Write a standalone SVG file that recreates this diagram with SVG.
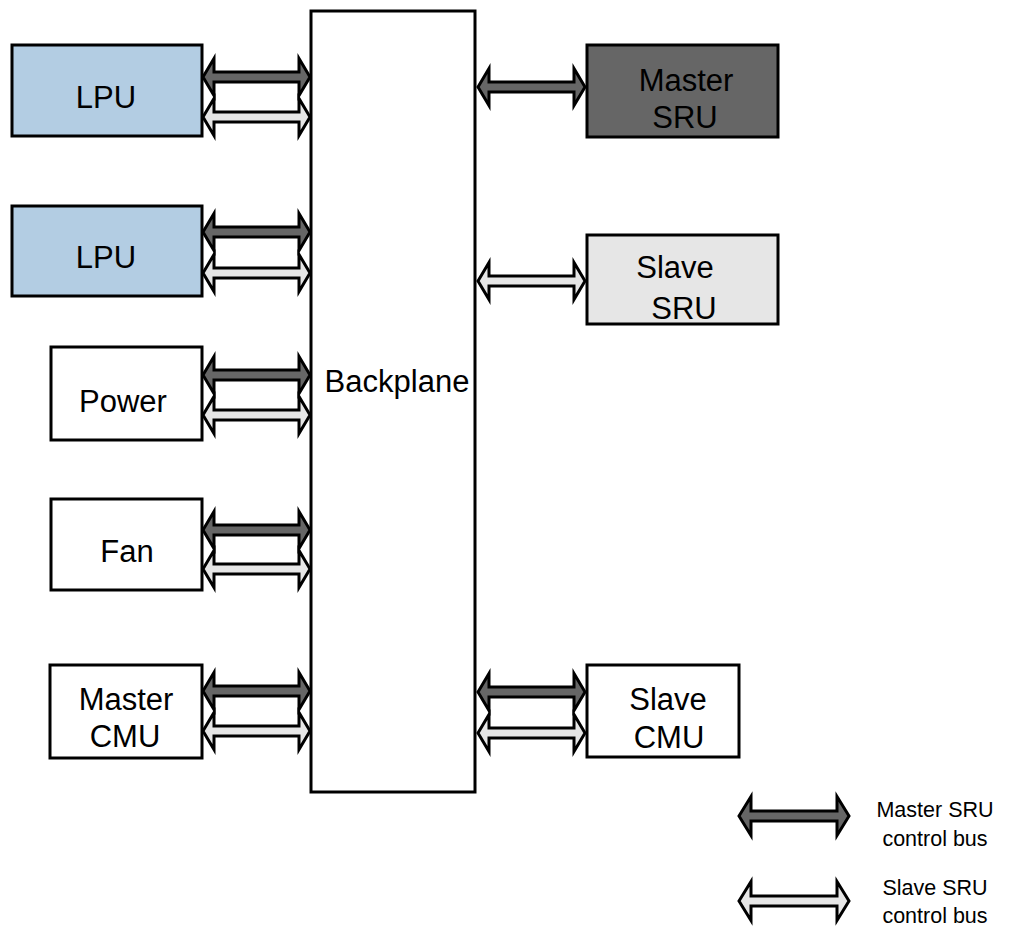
<svg xmlns="http://www.w3.org/2000/svg" xmlns:xlink="http://www.w3.org/1999/xlink" width="1017" height="932" viewBox="0 0 1017 932">
<style>
.box{stroke:#000;stroke-width:3}
.plain{fill:#fff}
.lpu{fill:#b3cde3}
.msru{fill:#666666}
.ssru{fill:#e6e6e6}
.t{font-family:"Liberation Sans",Arial,sans-serif;font-size:31px;fill:#000;text-anchor:middle}
.lt{font-family:"Liberation Sans",Arial,sans-serif;font-size:21.5px;fill:#000;text-anchor:middle}
.busM{fill:#666666;stroke:#000;stroke-width:3;stroke-linejoin:miter;stroke-miterlimit:10}
.busS{fill:#e6e6e6;stroke:#000;stroke-width:3;stroke-linejoin:miter;stroke-miterlimit:10}
</style>
<defs>
<path id="arm" d="M0,0 L11,-18.5 L11,-5 L96,-5 L96,-18.5 L107,0 L96,18.5 L96,5 L11,5 L11,18.5 Z"/>
<path id="legarm" d="M0,0 L12,-19.5 L12,-5 L98,-5 L98,-19.5 L110,0 L98,19.5 L98,5 L12,5 L12,19.5 Z"/>
</defs>
<rect width="1017" height="932" fill="#fff"/>

<g id="backplane">
<rect class="box plain" x="311" y="11" width="164" height="781"/>
<text class="t" x="397" y="392">Backplane</text>
</g>

<g id="lpu1">
<rect class="box lpu" x="12" y="45" width="190" height="91"/>
<text class="t" x="106" y="108">LPU</text>
</g>
<g id="lpu2">
<rect class="box lpu" x="12" y="206" width="190" height="90"/>
<text class="t" x="106" y="268">LPU</text>
</g>
<g id="power">
<rect class="box plain" x="51" y="347" width="151" height="93"/>
<text class="t" x="123" y="412">Power</text>
</g>
<g id="fan">
<rect class="box plain" x="51" y="499" width="151" height="91"/>
<text class="t" x="127" y="562">Fan</text>
</g>
<g id="master-cmu">
<rect class="box plain" x="50" y="665" width="152" height="93"/>
<text class="t" x="126" y="710">Master</text>
<text class="t" x="125" y="747">CMU</text>
</g>
<g id="master-sru">
<rect class="box msru" x="587" y="45" width="191" height="92"/>
<text class="t" x="686" y="91">Master</text>
<text class="t" x="685" y="128">SRU</text>
</g>
<g id="slave-sru">
<rect class="box ssru" x="587" y="235" width="191" height="89"/>
<text class="t" x="675" y="278">Slave</text>
<text class="t" x="684" y="319">SRU</text>
</g>
<g id="slave-cmu">
<rect class="box plain" x="587" y="665" width="152" height="92"/>
<text class="t" x="668" y="710">Slave</text>
<text class="t" x="669" y="748">CMU</text>
</g>

<g id="connectors">
<use xlink:href="#arm" href="#arm" class="busM" x="203" y="77"/>
<use xlink:href="#arm" href="#arm" class="busS" x="203" y="117"/>
<use xlink:href="#arm" href="#arm" class="busM" x="203" y="232"/>
<use xlink:href="#arm" href="#arm" class="busS" x="203" y="273"/>
<use xlink:href="#arm" href="#arm" class="busM" x="203" y="375"/>
<use xlink:href="#arm" href="#arm" class="busS" x="203" y="415"/>
<use xlink:href="#arm" href="#arm" class="busM" x="203" y="530"/>
<use xlink:href="#arm" href="#arm" class="busS" x="203" y="569"/>
<use xlink:href="#arm" href="#arm" class="busM" x="203" y="691"/>
<use xlink:href="#arm" href="#arm" class="busS" x="203" y="731"/>
<use xlink:href="#arm" href="#arm" class="busM" x="478" y="87"/>
<use xlink:href="#arm" href="#arm" class="busS" x="478" y="281"/>
<use xlink:href="#arm" href="#arm" class="busM" x="478" y="692"/>
<use xlink:href="#arm" href="#arm" class="busS" x="478" y="733"/>
</g>

<g id="legend">
<use xlink:href="#legarm" href="#legarm" class="busM" x="739" y="816"/>
<text class="lt" x="935" y="817">Master SRU</text>
<text class="lt" x="935" y="846">control bus</text>
<use xlink:href="#legarm" href="#legarm" class="busS" x="739" y="901"/>
<text class="lt" x="935" y="895">Slave SRU</text>
<text class="lt" x="935" y="923">control bus</text>
</g>
</svg>
